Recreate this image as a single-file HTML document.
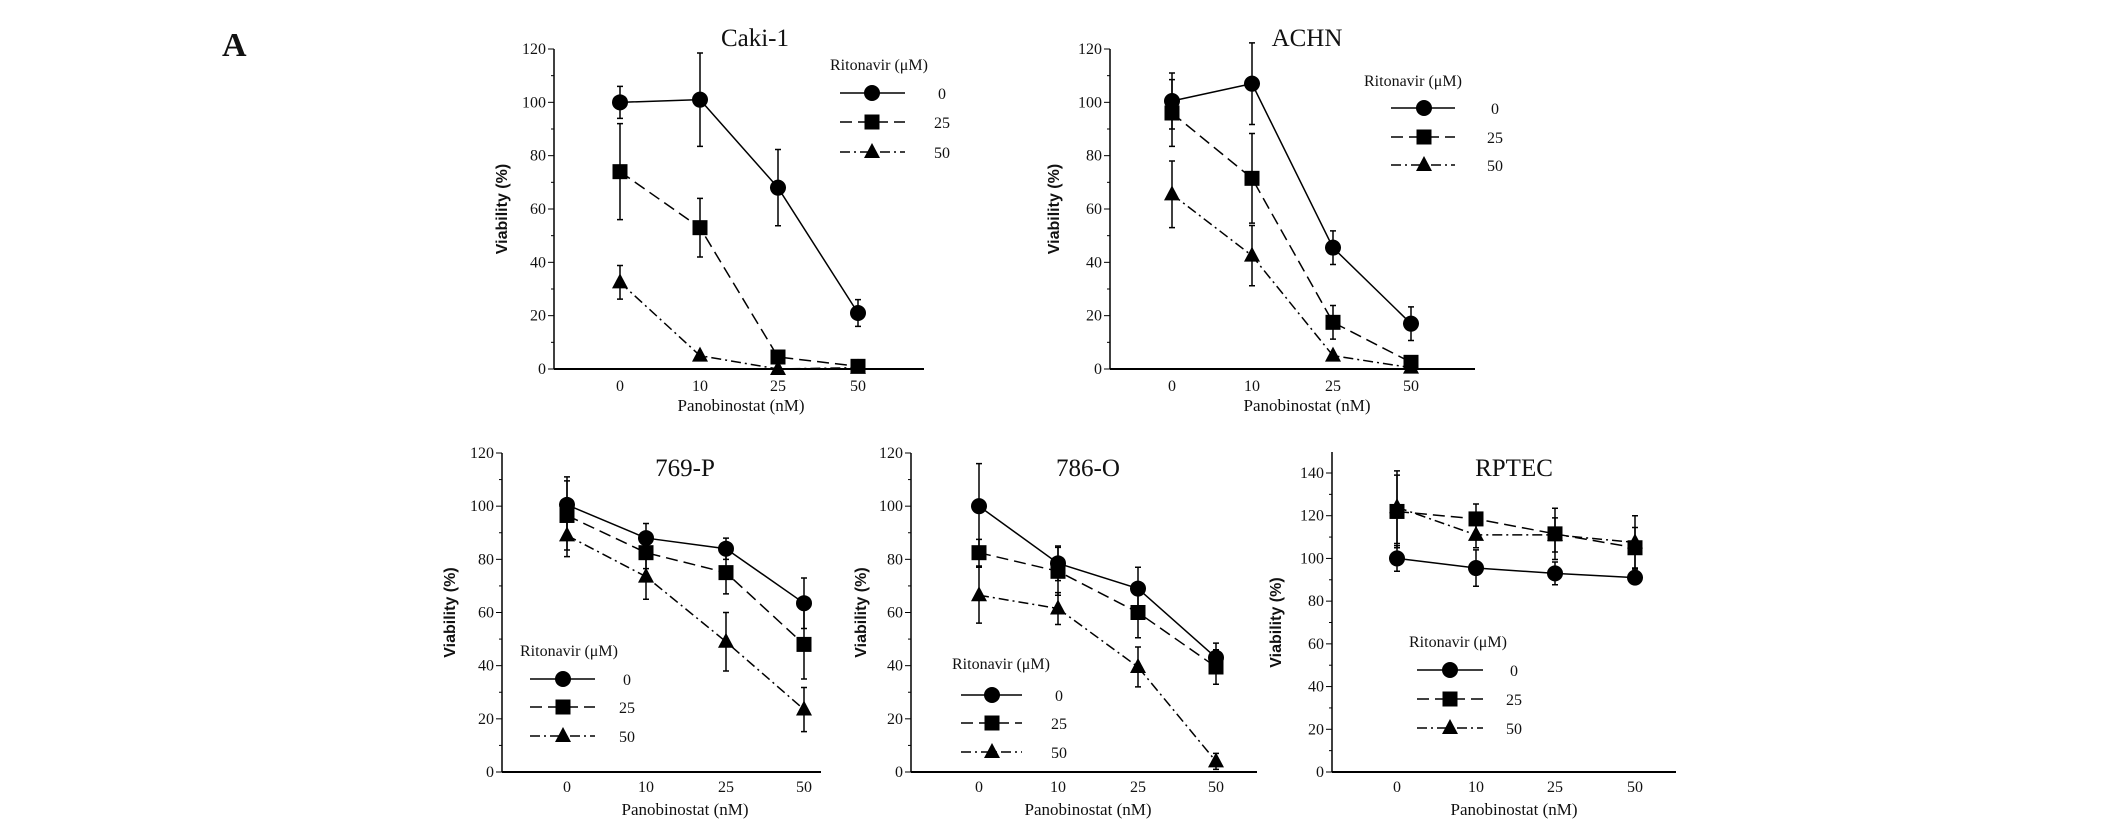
<!DOCTYPE html>
<html><head><meta charset="utf-8"><style>
html,body{margin:0;padding:0;background:#fff;}
svg{display:block;}
text{font-family:"Liberation Serif",serif;fill:#111;}
</style></head><body>
<svg id="fig" width="2126" height="828" viewBox="0 0 2126 828" xmlns="http://www.w3.org/2000/svg">
<text x="222" y="56" font-size="34" font-weight="bold">A</text>
</svg>
<script>
const categories = ["0","10","25","50"];
const seriesNames = ["0","25","50"];
const caki0 = [100,101,68,21], caki25 = [74,53,4.5,1], caki50 = [32.5,5,0,0.5];
const cakiE0 = [6,17.5,14.3,5], cakiE25 = [18,11,2,1], cakiE50 = [6.3,1,0,0];
const achn0 = [100.5,107,45.5,17], achn25 = [96,71.5,17.5,2.5], achn50 = [65.5,42.5,5,0.5];
const achnE0 = [10.5,15.3,6.3,6.3], achnE25 = [12.5,16.8,6.3,1], achnE50 = [12.5,11.3,1,0];
const p769_0 = [100.5,88,84,63.5], p769_25 = [96.5,82.5,75,48], p769_50 = [89,73.5,49,23.5];
const p769E0 = [10.5,5.5,4,9.5], p769E25 = [13,6,8,13], p769E50 = [8,8.5,11,8.3];
const o786_0 = [100,78.5,69,43], o786_25 = [82.5,75.5,60,39.5], o786_50 = [66.5,61.5,39.5,4];
const o786E0 = [16,6.5,8,5.5], o786E25 = [5,9,9.5,6.5], o786E50 = [10.5,6,7.5,3];
const rp0 = [100,95.5,93,91], rp25 = [122,118.5,111.5,105], rp50 = [124,111,111,107.5];
const rpE0 = [6,8.5,5.3,3], rpE25 = [17,7,12,9.5], rpE50 = [17,6,8,12.5];
const yTicks120 = [0,20,40,60,80,100,120];
const yTicks140 = [0,20,40,60,80,100,120,140];

const NS = "http://www.w3.org/2000/svg";
const svg = document.getElementById('fig');
function mk(tag, attrs, parent){const e=document.createElementNS(NS,tag);for(const k in attrs)e.setAttribute(k,attrs[k]);(parent||svg).appendChild(e);return e;}

const panels = [
 {name:"caki-1",title:"Caki-1",ax:554,ay0:369,ayTop:49,yMax:120,axEnd:924,tx:[620,700,778,858],titleX:755,titleY:46,
  ticks:yTicks120,data:[caki0,caki25,caki50],err:[cakiE0,cakiE25,cakiE50],
  leg:{tx:830,ty:70,rows:[93,122,152],l1:840,l2:905,mx:872,lx:942},ylx:507,tickY:391,xlY:411,xlX:741},
 {name:"achn",title:"ACHN",ax:1110,ay0:369,ayTop:49,yMax:120,axEnd:1475,tx:[1172,1252,1333,1411],titleX:1307,titleY:46,
  ticks:yTicks120,data:[achn0,achn25,achn50],err:[achnE0,achnE25,achnE50],
  leg:{tx:1364,ty:86,rows:[108,137,165],l1:1391,l2:1455,mx:1424,lx:1495},ylx:1059,tickY:391,xlY:411,xlX:1307},
 {name:"769-p",title:"769-P",ax:502,ay0:772,ayTop:453,yMax:120,axEnd:821,tx:[567,646,726,804],titleX:685,titleY:476,
  ticks:yTicks120,data:[p769_0,p769_25,p769_50],err:[p769E0,p769E25,p769E50],
  leg:{tx:520,ty:656,rows:[679,707,736],l1:530,l2:595,mx:563,lx:627},ylx:455,tickY:792,xlY:815,xlX:685},
 {name:"786-o",title:"786-O",ax:911,ay0:772,ayTop:453,yMax:120,axEnd:1257,tx:[979,1058,1138,1216],titleX:1088,titleY:476,
  ticks:yTicks120,data:[o786_0,o786_25,o786_50],err:[o786E0,o786E25,o786E50],
  leg:{tx:952,ty:669,rows:[695,723,752],l1:961,l2:1022,mx:992,lx:1059},ylx:866,tickY:792,xlY:815,xlX:1088},
 {name:"rptec",title:"RPTEC",ax:1332,ay0:772,ayTop:473,yMax:140,axEnd:1676,tx:[1397,1476,1555,1635],titleX:1514,titleY:476,
  ticks:yTicks140,data:[rp0,rp25,rp50],err:[rpE0,rpE25,rpE50],
  leg:{tx:1409,ty:647,rows:[670,699,728],l1:1417,l2:1483,mx:1450,lx:1514},ylx:1281,tickY:792,xlY:815,xlX:1514,axisTop:452}
];
const dashes = ["", "12 6", "10 4 2 4"];

function marker(g, kind, x, y){
  let e;
  if(kind===0){e=mk('circle',{cx:x,cy:y,r:8,fill:'#000'},g);}
  else if(kind===1){e=mk('rect',{x:x-7.5,y:y-7.5,width:15,height:15,fill:'#000'},g);}
  else {e=mk('polygon',{points:`${x},${y-9} ${x+8},${y+6} ${x-8},${y+6}`,fill:'#000'},g);}
  return e;
}

panels.forEach(p=>{
  const g = mk('g',{});
  
  
  const yS = v => p.ay0 - (v/p.yMax)*(p.ay0-p.ayTop);
  const top = p.axisTop || p.ayTop;
  const yAxis = mk('line',{x1:p.ax,y1:p.ay0,x2:p.ax,y2:top,stroke:'#000','stroke-width':1.5},g);
  
  
  const xAxis = mk('line',{x1:p.ax,y1:p.ay0,x2:p.axEnd,y2:p.ay0,stroke:'#000','stroke-width':2},g);
  
  
  for(let v=0; v<=p.yMax; v+=10){
    const major = v%20===0;
    mk('line',{x1:p.ax-(major?6:3),y1:yS(v),x2:p.ax,y2:yS(v),stroke:'#000','stroke-width':1},g);
  }
  p.ticks.forEach(v=>{
    const t = mk('text',{x:p.ax-8,y:yS(v)+5,'font-size':16,'text-anchor':'end'},g);
    t.textContent = v;
    
    
  });
  categories.forEach((c,i)=>{
    const t = mk('text',{x:p.tx[i],y:p.tickY,'font-size':16,'text-anchor':'middle'},g);
    t.textContent = c;
    
    
  });
  const ti = mk('text',{x:p.titleX,y:p.titleY,'font-size':25,'text-anchor':'middle'},g);
  ti.textContent = p.title;
  
  
  const xl = mk('text',{x:p.xlX,y:p.xlY,'font-size':17,'text-anchor':'middle'},g);
  xl.textContent = 'Panobinostat (nM)';
  
  
  const yc = (p.ay0+p.ayTop)/2;
  const yl = mk('text',{x:p.ylx,y:yc,'font-size':16,'font-weight':'bold','text-anchor':'middle',transform:`rotate(-90 ${p.ylx} ${yc})`,style:'font-family:"Liberation Sans",sans-serif'},g);
  yl.textContent = 'Viability (%)';
  
  
  p.data.forEach((vals,s)=>{
    const sg = mk('g',{},g);
    
    
    const pts = vals.map((v,i)=>`${p.tx[i]},${yS(v)}`).join(' ');
    mk('polyline',{points:pts,fill:'none',stroke:'#000','stroke-width':1.5,'stroke-dasharray':dashes[s]},sg);
    vals.forEach((v,i)=>{
      const e = p.err[s][i];
      if(e>0){
        const a=yS(v+e), b=yS(Math.max(0,v-e)), x=p.tx[i];
        const eb = mk('path',{d:`M${x},${a}V${b}M${x-3},${a}H${x+3}M${x-3},${b}H${x+3}`,stroke:'#000','stroke-width':1.5,fill:'none'},sg);
        
        
      }
      const m = marker(sg,s,p.tx[i],yS(v));
      
      
    });
  });
  const L = p.leg;
  const lg = mk('g',{},g);
  
  
  const lt = mk('text',{x:L.tx,y:L.ty,'font-size':16},lg);
  lt.textContent = 'Ritonavir (μM)';
  
  
  seriesNames.forEach((n,s)=>{
    const y=L.rows[s];
    const eg = mk('g',{},lg);
    
    
    mk('line',{x1:L.l1,y1:y,x2:L.l2,y2:y,stroke:'#000','stroke-width':1.5,'stroke-dasharray':dashes[s]},eg);
    marker(eg,s,L.mx,y);
    const t = mk('text',{x:L.lx,y:y+6,'font-size':16,'text-anchor':'middle'},eg);
    t.textContent = n;
  });
});
</script>
</body></html>
